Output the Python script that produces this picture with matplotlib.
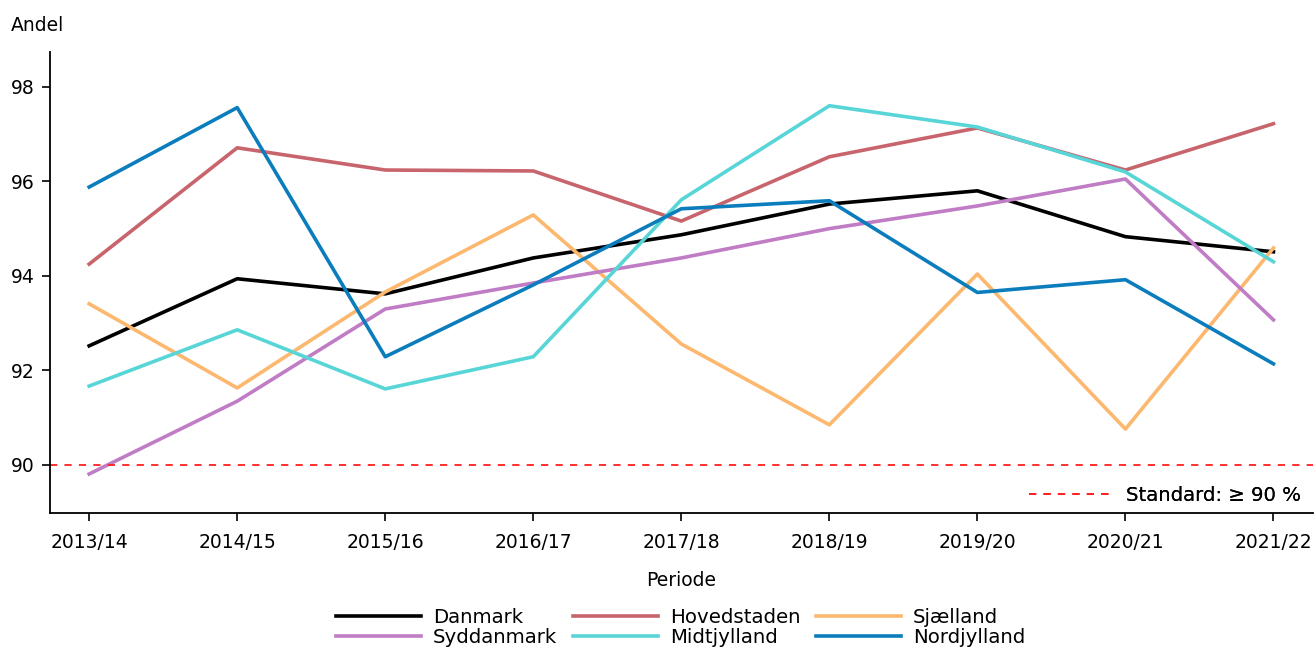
import matplotlib
matplotlib.use('Agg')
import matplotlib.pyplot as plt
from matplotlib.lines import Line2D

periods = ['2013/14', '2014/15', '2015/16', '2016/17', '2017/18',
           '2018/19', '2019/20', '2020/21', '2021/22']

danmark = [92.52, 93.94, 93.62, 94.38, 94.87, 95.52, 95.80, 94.83, 94.51]
hovedstaden = [94.25, 96.71, 96.24, 96.22, 95.16, 96.52, 97.13, 96.24, 97.22]
sjaelland = [93.41, 91.63, 93.66, 95.29, 92.56, 90.85, 94.04, 90.76, 94.59]
syddanmark = [89.81, 91.35, 93.30, 93.85, 94.38, 95.00, 95.48, 96.05, 93.07]
midtjylland = [91.67, 92.86, 91.61, 92.29, 95.61, 97.60, 97.15, 96.20, 94.30]
nordjylland = [95.88, 97.56, 92.29, 93.81, 95.42, 95.59, 93.65, 93.92, 92.14]

series = [
    ('Danmark', danmark, '#000000'),
    ('Hovedstaden', hovedstaden, '#c8646c'),
    ('Sjælland', sjaelland, '#fdb86f'),
    ('Syddanmark', syddanmark, '#c07cc4'),
    ('Midtjylland', midtjylland, '#58d5d7'),
    ('Nordjylland', nordjylland, '#0b7dbd'),
]
standard = 90

plt.rcParams['font.family'] = 'DejaVu Sans'
fs = 13.5
lfs = 14.2

fig = plt.figure(figsize=(13.14, 6.48), dpi=100)
ax = fig.add_axes([0.038, 0.208, 0.961, 0.712])

x = list(range(len(periods)))
handles = []
for name, vals, col in series:
    h, = ax.plot(x, vals, color=col, lw=2.6, label=name)
    handles.append(h)

ax.axhline(standard, color='#ff2020', ls=(0, (4, 4)), lw=1.3)

ax.set_xlim(-0.265, 8.265)
ax.set_ylim(88.98, 98.74)
ax.set_xticks(x)
ax.set_xticklabels(periods)
ax.set_yticks([90, 92, 94, 96, 98])
ax.tick_params(direction='out', length=6, width=1.2, labelsize=fs)
ax.tick_params(axis='x', pad=8)
ax.tick_params(axis='y', pad=5)
for s in ['top', 'right']:
    ax.spines[s].set_visible(False)
for s in ['left', 'bottom']:
    ax.spines[s].set_linewidth(1.3)

ax.set_xlabel('Periode', fontsize=fs, labelpad=14)
fig.text(0.008, 0.96, 'Andel', fontsize=fs, ha='left', va='center')

leg2 = ax.legend([Line2D([0], [0], color='#ff2020', ls=(0, (4, 4)), lw=1.3)],
                 ['Standard: ≥ 90 %'], loc='lower right', frameon=False,
                 fontsize=lfs, handlelength=4.3, borderaxespad=0.0,
                 handletextpad=0.6, bbox_to_anchor=(0.997, 0.0))
ax.add_artist(leg2)

# matplotlib fills legend columns first, so reorder to get row-wise order
order = [0, 3, 1, 4, 2, 5]
fig.legend(handles=[handles[i] for i in order],
           labels=[series[i][0] for i in order], ncol=3,
           loc='lower center', bbox_to_anchor=(0.518, -0.026), frameon=False,
           fontsize=lfs, handlelength=4.3, columnspacing=0.8,
           labelspacing=0.05, handletextpad=0.6)

fig.savefig('out.png', dpi=100)
